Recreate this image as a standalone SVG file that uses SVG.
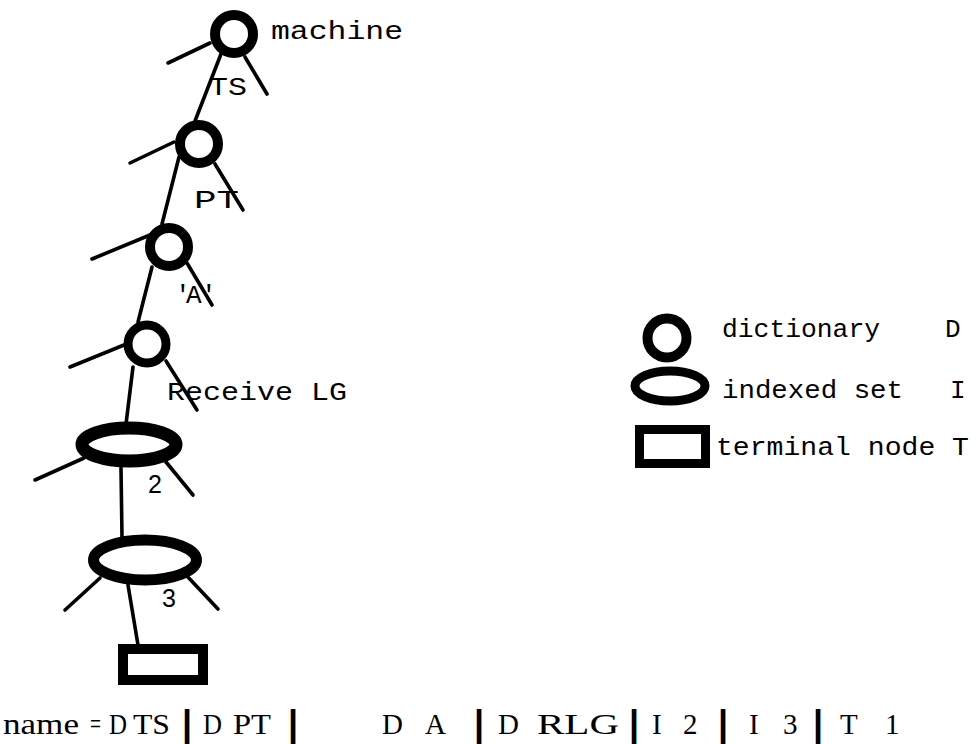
<svg xmlns="http://www.w3.org/2000/svg" width="976" height="744" viewBox="0 0 976 744">
<style>
.ring{fill:#fff;stroke:#000;stroke-width:10}
.oval{fill:#fff;stroke:#000}
.box{fill:#fff;stroke:#000;stroke-width:10}
.br{stroke:#000;stroke-width:3.6;stroke-linecap:round;fill:none}
.tw{font-family:"Liberation Mono","DejaVu Sans Mono",monospace;font-size:26px;fill:#000}
.num{font-family:"Liberation Sans",Arial,sans-serif;font-size:25px;fill:#000}
.ft{font-family:"Liberation Serif","Times New Roman",serif;font-size:29px;fill:#000}
.bar{font-family:"Liberation Sans",Arial,sans-serif;font-weight:bold;font-size:36px;fill:#000;text-anchor:middle}
</style>
<rect width="976" height="744" fill="#fff"/>
<g id="connectors">
<line class="br" x1="210" y1="43" x2="168" y2="63"/>
<line class="br" x1="245" y1="57" x2="267" y2="94"/>
<line class="br" x1="221" y1="54" x2="195" y2="121"/>
<line class="br" x1="174" y1="142" x2="130" y2="163"/>
<line class="br" x1="215" y1="164" x2="243" y2="210"/>
<line class="br" x1="179" y1="157" x2="162" y2="224"/>
<line class="br" x1="150" y1="235" x2="92" y2="259"/>
<line class="br" x1="187" y1="263" x2="212" y2="305"/>
<line class="br" x1="152" y1="267" x2="138" y2="322"/>
<line class="br" x1="124" y1="345" x2="70" y2="367"/>
<line class="br" x1="166" y1="361" x2="197" y2="410"/>
<line class="br" x1="133" y1="367" x2="126" y2="424"/>
<line class="br" x1="84" y1="458" x2="35" y2="480"/>
<line class="br" x1="166" y1="462" x2="193" y2="495"/>
<line class="br" x1="121" y1="468" x2="122" y2="537"/>
<line class="br" x1="100" y1="578" x2="65" y2="610"/>
<line class="br" x1="186" y1="575" x2="218" y2="609"/>
<line class="br" x1="128" y1="585" x2="138" y2="645"/>
</g>
<g id="node-machine">
<circle class="ring" cx="234" cy="34" r="19"/>
<text class="tw" x="271" y="39" textLength="132" lengthAdjust="spacingAndGlyphs">machine</text>
</g>
<g id="node-TS">
<circle class="ring" cx="199" cy="144" r="19"/>
<text class="tw" x="209" y="95" textLength="38" lengthAdjust="spacingAndGlyphs">TS</text>
</g>
<g id="node-PT">
<circle class="ring" cx="169" cy="247" r="19"/>
<text class="tw" x="194" y="208" textLength="45" lengthAdjust="spacingAndGlyphs">PT</text>
</g>
<g id="node-A">
<circle class="ring" cx="147" cy="344" r="19" style="stroke-width:9"/>
<text class="tw" x="175 186 201" y="303">'A'</text>
</g>
<g id="node-ReceiveLG">
<ellipse class="oval" cx="129" cy="444.5" rx="47" ry="16.5" stroke-width="13"/>
<text class="tw" x="167" y="400" textLength="180" lengthAdjust="spacingAndGlyphs">Receive LG</text>
</g>
<g id="node-2">
<ellipse class="oval" cx="145" cy="560" rx="51.5" ry="20" stroke-width="11"/>
<text class="num" x="148" y="493">2</text>
</g>
<g id="node-3">
<rect class="box" x="123" y="649" width="80" height="31"/>
<text class="num" x="162" y="607">3</text>
</g>
<g id="legend">
<g id="legend-dictionary">
<circle class="ring" cx="667" cy="338" r="19.5"/>
<text class="tw" x="722" y="337" textLength="158" lengthAdjust="spacingAndGlyphs">dictionary</text>
<text class="tw" x="945" y="337">D</text>
</g>
<g id="legend-indexed">
<ellipse class="oval" cx="670" cy="386" rx="35" ry="15" stroke-width="9"/>
<text class="tw" x="722" y="398" textLength="181" lengthAdjust="spacingAndGlyphs">indexed set</text>
<text class="tw" x="950" y="398">I</text>
</g>
<g id="legend-terminal">
<rect class="box" x="639.5" y="429.5" width="66" height="34" style="stroke-width:9"/>
<text class="tw" x="716" y="455" textLength="253" lengthAdjust="spacingAndGlyphs">terminal node T</text>
</g>
</g>
<g id="name-line">
<text class="ft" x="3" y="734" textLength="76" lengthAdjust="spacingAndGlyphs">name</text>
<text class="ft" x="90" y="734" textLength="11" lengthAdjust="spacingAndGlyphs">=</text>
<text class="ft" x="109" y="734" textLength="18" lengthAdjust="spacingAndGlyphs">D</text>
<text class="ft" x="133" y="734" textLength="37" lengthAdjust="spacingAndGlyphs">TS</text>
<text class="bar" x="187" y="736">|</text>
<text class="ft" x="203" y="734" textLength="19" lengthAdjust="spacingAndGlyphs">D</text>
<text class="ft" x="233" y="734" textLength="38" lengthAdjust="spacingAndGlyphs">PT</text>
<text class="bar" x="293" y="736">|</text>
<text class="ft" x="382" y="734">D</text>
<text class="ft" x="425" y="734">A</text>
<text class="bar" x="479" y="736">|</text>
<text class="ft" x="498" y="734">D</text>
<text class="ft" x="537" y="734" textLength="82" lengthAdjust="spacingAndGlyphs">RLG</text>
<text class="bar" x="634" y="736">|</text>
<text class="ft" x="652" y="734">I</text>
<text class="ft" x="683" y="734">2</text>
<text class="bar" x="723" y="736">|</text>
<text class="ft" x="749" y="734">I</text>
<text class="ft" x="783" y="734">3</text>
<text class="bar" x="818" y="736">|</text>
<text class="ft" x="840" y="734">T</text>
<text class="ft" x="885" y="734">1</text>
</g>
</svg>
